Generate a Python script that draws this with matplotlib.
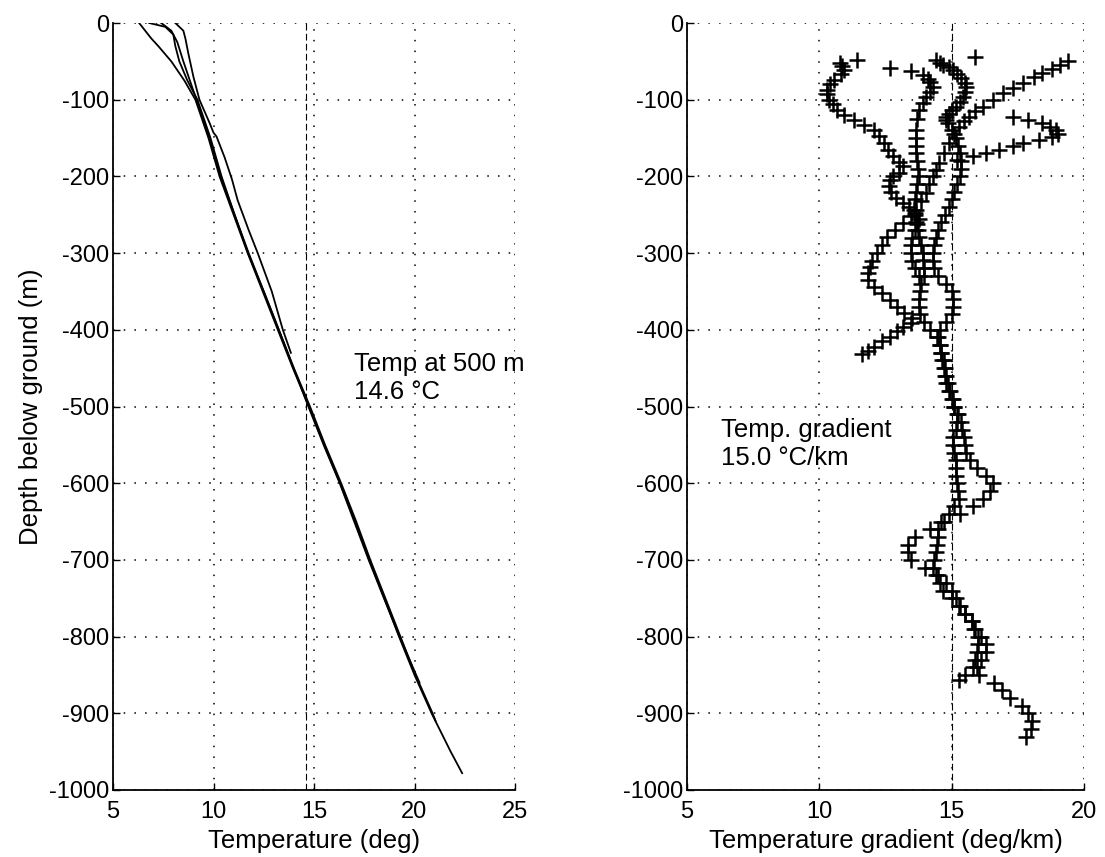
import matplotlib
matplotlib.use("Agg")
import matplotlib.pyplot as plt

plt.rcParams['font.family'] = ['Liberation Sans', 'DejaVu Sans']
plt.rcParams['axes.unicode_minus'] = False

# ---------------- Left panel: temperature profiles ----------------
t1_depth = [0, -10, -20, -30, -50, -75, -100, -150, -200, -250, -300, -350, -400, -450, -500,
            -550, -600, -650, -700, -750, -800, -850, -900, -950, -978]
t1_temp = [6.3, 6.6, 6.9, 7.25, 7.9, 8.55, 9.1, 9.75, 10.3, 11.0, 11.7, 12.45, 13.2, 13.95, 14.75,
           15.5, 16.3, 17.05, 17.75, 18.5, 19.23, 20.0, 20.85, 21.8, 22.37]

t2_depth = [0, -5, -15, -30, -50, -75, -100, -150, -200, -250, -300, -350, -400, -450, -500,
            -550, -600, -650, -700, -750, -800, -850, -900, -910]
t2_temp = [6.8, 7.6, 8.0, 8.1, 8.3, 8.7, 9.2, 9.85, 10.4, 11.05, 11.75, 12.5, 13.25, 14.0, 14.8,
           15.55, 16.35, 17.1, 17.8, 18.55, 19.3, 20.05, 20.9, 21.05]

t3_depth = [0, -10, -20, -40, -70, -100, -130, -143, -148, -175, -204, -231, -270, -300, -350, -400, -430]
t3_temp = [8.1, 8.5, 8.6, 8.75, 9.0, 9.3, 9.8, 10.0, 10.15, 10.55, 10.92, 11.2, 11.75, 12.2, 12.9, 13.45, 13.85]

t4_depth = [0, -10, -25, -50, -100, -150, -200, -250, -300, -350, -400, -450, -500, -550, -600,
            -650, -700, -750, -800, -860]
t4_temp = [7.4, 7.9, 8.2, 8.5, 9.15, 9.8, 10.35, 11.05, 11.72, 12.5, 13.25, 13.98, 14.72, 15.48, 16.28,
           17.0, 17.72, 18.48, 19.25, 20.25]

temp_at_500 = 14.6

# ---------------- Right panel: temperature gradient profiles ----------------
ga_depth = [-52, -56, -61, -67, -74, -80, -87, -93, -100, -106, -113, -120, -126, -133, -139, -147,
            -156, -165, -174, -181, -187, -195, -200, -205, -212, -220, -228, -235, -240, -248, -255,
            -262, -270, -280, -290, -300, -310, -320, -330]
ga_grad = [10.79, 10.85, 10.94, 10.8, 10.56, 10.42, 10.3, 10.3, 10.37, 10.5, 10.67, 10.95, 11.3, 11.7,
           12.06, 12.25, 12.43, 12.6, 12.8, 13.0, 13.18, 13.0, 12.8, 12.66, 12.65, 12.7, 12.9, 13.15,
           13.4, 13.6, 13.75, 13.7, 13.6, 13.5, 13.45, 13.45, 13.5, 13.6, 13.75]

gb_depth = [-48, -59, -63, -68, -73, -77, -83, -90, -96, -104, -113, -125, -139, -150, -160, -170,
            -180, -190, -200, -210, -220, -230, -244, -250, -260, -270, -279, -290, -300, -309, -320,
            -330, -340, -350, -360, -370, -380, -390, -400, -410, -420, -430, -440, -450, -460, -470,
            -480, -490, -500, -510, -520, -530, -540, -550, -560, -570, -580, -590, -600, -610, -620,
            -630, -640, -650, -660, -670, -680, -690, -700, -710, -720, -730, -740, -750, -760, -770,
            -780, -790, -800, -810, -820, -830, -840, -850, -857]
gb_grad = [11.42, 12.66, 13.48, 13.93, 14.1, 14.2, 14.3, 14.2, 14.04, 13.9, 13.78, 13.7, 13.67, 13.67,
           13.67, 13.67, 13.7, 13.72, 13.75, 13.7, 13.65, 13.6, 13.56, 13.6, 13.65, 13.72, 13.78, 13.85,
           13.9, 13.93, 13.95, 13.95, 13.85, 13.8, 13.78, 13.78, 13.8, 13.95, 14.2, 14.45, 14.55, 14.6,
           14.7, 14.75, 14.8, 14.85, 14.95, 15.05, 15.1, 15.2, 15.2, 15.15, 15.06, 15.06, 15.1, 15.17,
           15.17, 15.17, 15.2, 15.25, 15.28, 15.1, 14.9, 14.6, 14.5, 14.5, 14.45, 14.4, 14.35, 14.3,
           14.4, 14.55, 14.68, 15.0, 15.28, 15.5, 15.75, 15.85, 16.1, 16.3, 16.3, 16.1, 15.8, 15.5, 15.28]

gc_depth = [-44, -48, -52, -55, -58, -61, -66, -72, -78, -83, -90, -96, -103, -109, -113, -118, -122,
            -126, -130, -140, -150, -160, -170, -180, -190, -200, -210, -220, -230, -240, -250, -260,
            -270, -280, -290, -300, -310, -320, -330, -340, -350, -360, -370, -380, -390, -400, -410,
            -420, -430, -440, -450, -460, -470, -480, -490, -500, -510, -520, -530, -540, -550, -560,
            -570, -580, -590, -600, -610, -620, -630, -640, -650, -660, -670, -680, -690, -700, -710,
            -720, -730, -740, -750, -760, -770, -780, -790, -800, -810, -820, -830, -840, -850, -860,
            -870, -880, -890, -900, -910, -920, -931]
gc_grad = [15.9, 14.42, 14.55, 14.68, 14.9, 15.06, 15.2, 15.36, 15.5, 15.54, 15.5, 15.43, 15.3, 15.17,
           15.0, 14.9, 14.8, 14.8, 14.85, 15.0, 15.15, 15.25, 15.3, 15.35, 15.35, 15.3, 15.2, 15.1, 15.0,
           14.9, 14.75, 14.6, 14.5, 14.4, 14.35, 14.3, 14.3, 14.35, 14.5, 14.8, 15.0, 15.06, 15.06, 15.0,
           14.8, 14.55, 14.5, 14.55, 14.6, 14.65, 14.7, 14.75, 14.8, 14.9, 15.0, 15.1, 15.25, 15.35, 15.4,
           15.45, 15.5, 15.55, 15.7, 15.95, 16.3, 16.55, 16.45, 16.2, 15.8, 15.3, 14.7, 14.2, 13.6, 13.35,
           13.35, 13.45, 14.0, 14.5, 14.8, 15.0, 15.15, 15.3, 15.5, 15.75, 15.9, 16.0, 16.0, 15.95, 15.9,
           15.95, 16.05, 16.6, 16.9, 17.2, 17.65, 17.9, 18.05, 18.0, 17.8]

gd_depth = [-50, -55, -60, -65, -70, -78, -85, -91, -100, -109, -115, -122, -128, -135, -145, -157,
            -170, -183, -192, -200, -210, -222, -232, -244, -252, -261, -270, -279, -290, -300, -310,
            -318, -326, -335, -344, -352, -361, -370, -378, -385, -391, -396, -402, -409, -415, -422,
            -427, -431]
gd_grad = [19.4, 19.1, 18.8, 18.43, 18.1, 17.68, 17.3, 16.93, 16.55, 16.18, 15.9, 15.66, 15.45, 15.28,
           15.1, 14.9, 14.7, 14.53, 14.4, 14.3, 14.15, 14.04, 13.85, 13.67, 13.45, 13.18, 12.85, 12.55,
           12.35, 12.17, 12.0, 11.9, 11.85, 11.85, 12.06, 12.35, 12.66, 12.95, 13.2, 13.5, 13.45, 13.18,
           12.95, 12.66, 12.35, 12.06, 11.85, 11.6]

ge_depth = [-122, -126, -131, -135, -140, -145, -148, -152, -157, -161, -166, -170, -174, -179]
ge_grad = [17.3, 17.9, 18.4, 18.7, 18.95, 19.0, 18.8, 18.3, 17.7, 17.3, 16.8, 16.3, 15.8, 15.2]

mean_gradient = 15.0

left_xticks = [5, 10, 15, 20, 25]
right_xticks = [5, 10, 15, 20]
yticks = [0, -100, -200, -300, -400, -500, -600, -700, -800, -900, -1000]

# ---------------- Drawing ----------------
FS_TICK = 17
FS_LABEL = 18.5
fig = plt.figure(figsize=(11.05, 8.57), dpi=100)
ax1 = fig.add_axes([113 / 1105, 67 / 857, 402 / 1105, 767 / 857])
ax2 = fig.add_axes([687 / 1105, 67 / 857, 397 / 1105, 767 / 857])

for ax in (ax1, ax2):
    ax.set_ylim(-1000, 0)
    ax.set_yticks(yticks)
    ax.grid(True, color='black', linestyle=(0, (1, 6)), linewidth=1.1)
    ax.set_axisbelow(True)
    ax.spines['top'].set_visible(False)
    ax.spines['right'].set_visible(False)
    ax.spines['left'].set_linewidth(1.3)
    ax.spines['bottom'].set_linewidth(1.3)
    ax.tick_params(direction='in', length=5, width=1, labelsize=FS_TICK, colors='black')
    ax.tick_params(axis='x', pad=8)
    ax.tick_params(axis='y', pad=3)

for d, t in [(t1_depth, t1_temp), (t2_depth, t2_temp), (t3_depth, t3_temp), (t4_depth, t4_temp)]:
    ax1.plot(t, d, color='black', linewidth=1.3)
ax1.axvline(temp_at_500, color='black', linestyle=(0, (6, 3)), linewidth=0.8)
ax1.set_xlim(5, 25)
ax1.set_xticks(left_xticks)
ax1.set_xlabel('Temperature (deg)', fontsize=FS_LABEL, labelpad=4)
ax1.set_ylabel('Depth below ground (m)', fontsize=FS_LABEL, labelpad=4)
ax1.text(17.0, -463, 'Temp at 500 m\n14.6 \u00b0C', fontsize=FS_LABEL, va='center', ha='left',
         linespacing=1.2, clip_on=False)

for d, g in [(ga_depth, ga_grad), (gb_depth, gb_grad), (gc_depth, gc_grad),
             (gd_depth, gd_grad), (ge_depth, ge_grad)]:
    ax2.plot(g, d, linestyle='none', marker='+', markersize=11, markeredgewidth=1.8, color='black')
ax2.axvline(mean_gradient, color='black', linestyle=(0, (6, 3)), linewidth=0.8)
ax2.set_xlim(5, 20)
ax2.set_xticks(right_xticks)
ax2.set_xlabel('Temperature gradient (deg/km)', fontsize=FS_LABEL, labelpad=4)
ax2.text(6.3, -549, 'Temp. gradient\n15.0 \u00b0C/km', fontsize=FS_LABEL, va='center', ha='left',
         linespacing=1.2)

fig.savefig('out.png', dpi=100)
